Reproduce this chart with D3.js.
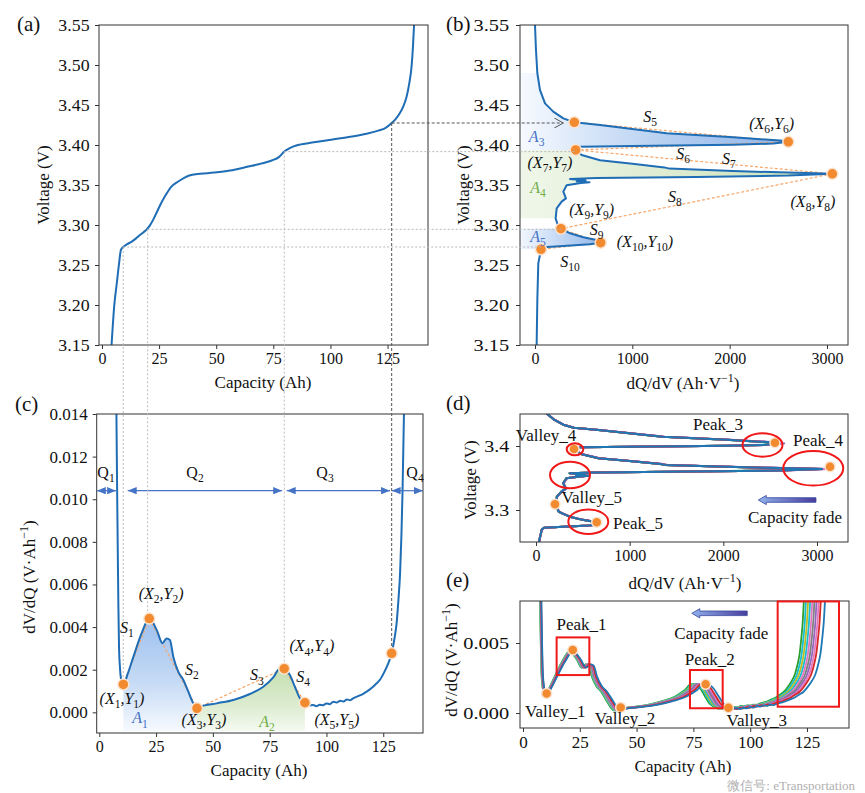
<!DOCTYPE html>
<html>
<head>
<meta charset="utf-8">
<script src="https://cdn.jsdelivr.net/npm/d3@7"></script>
<style>
body { margin: 0; background: #fff; }
svg text { font-family: "Liberation Serif", "Times New Roman", serif; }
</style>
</head>
<body>
<svg id="fig" width="865" height="793"></svg>
<script>
// ---------- values ----------
// (a) charge curve: capacity (Ah) and voltage (V)
const cap_a = [4.2, 5.4, 6.4, 7.4, 8.3, 9.3, 11, 12.9, 14.8, 16.6, 18.2, 19.6, 21, 22.5, 24, 25.5, 27.5, 30.4, 33.2, 36, 39, 43, 49, 56, 64, 70, 74.6, 77.3, 79.8, 81.8, 83.6, 86.6, 92, 101, 108, 115.8, 121, 124, 126.8, 128.7, 130.4, 132, 133.3, 134.5, 135.5, 136.1, 136.6];
const volt_a = [3.15, 3.20, 3.225, 3.25, 3.2688, 3.2725, 3.276, 3.279, 3.283, 3.2875, 3.291, 3.2946, 3.2995, 3.307, 3.316, 3.325, 3.3355, 3.348, 3.354, 3.359, 3.3625, 3.364, 3.3655, 3.368, 3.373, 3.377, 3.381, 3.3845, 3.3917, 3.3955, 3.398, 3.4005, 3.403, 3.407, 3.410, 3.414, 3.418, 3.421, 3.4275, 3.433, 3.44, 3.449, 3.46, 3.477, 3.498, 3.522, 3.55];

// (b) dQ/dV against voltage, listed along the line from top to bottom
const volt_b = [3.55, 3.519, 3.49, 3.469, 3.452, 3.4417, 3.4333, 3.4284, 3.425, 3.4146, 3.4096, 3.4054, 3.404, 3.4018, 3.4004, 3.3988, 3.3979, 3.3965, 3.3938, 3.3875, 3.381, 3.3765, 3.372, 3.3705, 3.3675, 3.3655, 3.364, 3.3618, 3.36, 3.3587, 3.3575, 3.3555, 3.3545, 3.3535, 3.3525, 3.3496, 3.3417, 3.3333, 3.3292, 3.3208, 3.3083, 3.2979, 3.2954, 3.2896, 3.2846, 3.2813, 3.2779, 3.2758, 3.2738, 3.2721, 3.2696, 3.252, 3.206, 3.15];
const dqdv_b = [0, 10, 24, 51, 103, 188, 291, 404, 668, 1353, 2037, 2551, 2603, 2450, 2037, 1010, 462, 430, 418, 479, 668, 1000, 1330, 1380, 2034, 2600, 3055, 2600, 1661, 634, 360, 520, 430, 560, 470, 325, 291, 318, 274, 223, 212, 240, 267, 360, 497, 634, 675, 565, 291, 86, 62, 34, 24, 17];
const mark_b_dq = [404, 2603, 418, 3055, 267, 675, 62];
const mark_b_v = [3.4284, 3.404, 3.3938, 3.364, 3.2954, 3.2779, 3.2696];

// (c) dV/dQ against capacity
const cap_c = [7.5, 7.8, 8.1, 8.4, 8.7, 9.1, 9.7, 10.6, 12.5, 15, 18.6, 22.0, 25.3, 27.8, 29.6, 31.1, 32.6, 34.8, 37.0, 39.2, 41.4, 43.0, 44.3, 51.7, 59, 66.3, 72.2, 76.6, 79.5, 81.4, 83.9, 86.1, 88.3, 90.5, 92.3, 94.2, 95.6, 97, 98.5, 100, 101.5, 103, 104.5, 106, 107.5, 109, 110.5, 111.8, 114, 116, 117.7, 120, 122, 123.5, 125.5, 127.2, 128.7, 130, 130.9, 131.7, 132.4, 133, 133.5, 134.2];
const dvdq_c = [0.0145, 0.011, 0.008, 0.005, 0.003, 0.0021, 0.0015, 0.00131, 0.0018, 0.0026, 0.0037, 0.0044, 0.00386, 0.00324, 0.00347, 0.0034, 0.0026, 0.0019, 0.00152, 0.00097, 0.00042, 0.00019, 0.00026, 0.00042, 0.00058, 0.00086, 0.0012, 0.00164, 0.00206, 0.00205, 0.00175, 0.0012, 0.00066, 0.00045, 0.00032, 0.00034, 0.00028, 0.00036, 0.00033, 0.00042, 0.00038, 0.0005, 0.00046, 0.00054, 0.00051, 0.0006, 0.00057, 0.00066, 0.00076, 0.00086, 0.00097, 0.00115, 0.00135, 0.00152, 0.0019, 0.0023, 0.00277, 0.0035, 0.0042, 0.0053, 0.0065, 0.0083, 0.0104, 0.0145];
const mark_c_cap = [10.6, 22.0, 43.0, 81.4, 90.5, 128.7];
const mark_c_val = [0.00131, 0.0044, 0.00019, 0.00205, 0.00045, 0.00277];

// points on (a) that lead to (b) and (c)
const guide_cap = [9.3, 20.0, 79.8, 126.8];
const guide_volt = [3.2725, 3.2946, 3.3917, 3.4275];
const guide_to_b = [6, 4, 2, 0];
const guide_to_c = [0, 1, 3, 5];

// capacity ranges in (c)
const q_names = ["Q_1", "Q_2", "Q_3", "Q_4"];
const q_from = [-1.1, 12.5, 82.5, 128.7];
const q_to = [7.4, 80.5, 128.0, 142.5];
const q_level = 0.0104;

// (d) and (e): aged curves, capacity / dQ/dV factors per cycle
const fade_colors = ["#2ca02c", "#17becf", "#bcbd22", "#17becf", "#e377c2", "#7f7f7f", "#9467bd", "#e377c2", "#d62728", "#1f77b4"];
const fade_scale = [0.93, 0.937, 0.944, 0.951, 0.958, 0.965, 0.972, 0.979, 0.986, 1.0];
const fade_dq = [0.99, 0.995, 1.0, 1.0, 1.012, 1.0, 1.018, 1.01, 1.0, 1.0];

const feat_d_name = ["Peak_3", "Peak_4", "Valley_4", "Valley_5", "Peak_5"];
const feat_d_dq = [2551, 3139, 406, 203, 648];
const feat_d_v = [3.405, 3.3677, 3.3953, 3.309, 3.2808];

const feat_e_name = ["Valley_1", "Peak_1", "Valley_2", "Peak_2", "Valley_3"];
const feat_e_cap = [10.4, 21.9, 43, 80.4, 90.4];
const feat_e_val = [0.0014, 0.0045, 0.0004, 0.00205, 0.00038];

// ---------- drawing ----------
const svg = d3.select("#fig");
const defs = svg.append("defs");
const blue = "#1f6db5", orange = "#f28a30", dashOrange = "#f5a66a";

const xa = d3.scaleLinear().domain([-1.3, 142.7]).range([99, 428]);
const ya = d3.scaleLinear().domain([3.15, 3.55]).range([345, 25]);
const xb = d3.scaleLinear().domain([-154, 3216]).range([520, 848]);
const yb = d3.scaleLinear().domain([3.15, 3.55]).range([345, 25]);
const xc = d3.scaleLinear().domain([-1.14, 142.5]).range([96.7, 423]);
const yc = d3.scaleLinear().domain([-0.00097, 0.014]).range([733, 414]);
const xd = d3.scaleLinear().domain([-171, 3331]).range([520, 848]);
const yd = d3.scaleLinear().domain([3.25, 3.45]).range([542, 414]);
const xe = d3.scaleLinear().domain([-1.32, 143.5]).range([520, 849]);
const ye = d3.scaleLinear().domain([-0.00107, 0.008]).range([728, 601]);

function panel(id, x, y, xt, yt, xf, yf, yStretch, xSize, ySize) {
  const x0 = x.range()[0], x1 = x.range()[1], y0 = y.range()[1], y1 = y.range()[0];
  defs.append("clipPath").attr("id", id).append("rect")
    .attr("x", x0).attr("y", y0).attr("width", x1 - x0).attr("height", y1 - y0);
  const gx = svg.append("g").attr("transform", `translate(0,${y1})`)
    .call(d3.axisBottom(x).tickValues(xt).tickFormat(xf).tickSize(4).tickPadding(4).tickSizeOuter(0));
  gx.select(".domain").remove();
  gx.selectAll("line").attr("stroke", "#333");
  gx.selectAll("text").attr("font-size", xSize).attr("fill", "#111")
    .attr("font-family", '"Liberation Serif", serif');
  const gy = svg.append("g").attr("transform", `translate(${x0},0)`)
    .call(d3.axisLeft(y).tickValues(yt).tickFormat(yf).tickSize(4).tickPadding(5).tickSizeOuter(0));
  gy.select(".domain").remove();
  gy.selectAll("line").attr("stroke", "#333");
  gy.selectAll("text").attr("font-size", ySize).attr("fill", "#111")
    .attr("font-family", '"Liberation Serif", serif')
    .attr("transform", `scale(${yStretch},1)`);
  const plot = svg.append("g").attr("clip-path", `url(#${id})`);
  svg.append("rect").attr("x", x0).attr("y", y0).attr("width", x1 - x0).attr("height", y1 - y0)
    .attr("fill", "none").attr("stroke", "#333").attr("stroke-width", 1);
  return plot;
}

function label(txt, x, y, size, opt) {
  opt = opt || {};
  const t = svg.append("text").attr("x", x).attr("y", y).attr("font-size", size)
    .attr("fill", opt.color || "#111").attr("text-anchor", opt.anchor || "middle").text(txt);
  if (opt.rotate) t.attr("transform", `rotate(-90,${x},${y})`);
  return t;
}

// text with subscripts, e.g. "(X_2,Y_2)"
function subText(txt, x, y, size, color, italic) {
  const t = svg.append("text").attr("x", x).attr("y", y).attr("font-size", size)
    .attr("fill", color).attr("text-anchor", "middle");
  const parts = txt.split(/(_\d+)/).filter(p => p.length);
  let down = false;
  parts.forEach(p => {
    if (p[0] === "_") {
      t.append("tspan").text(p.slice(1)).attr("font-size", size * 0.72).attr("dy", size * 0.28);
      down = true;
    } else {
      const s = t.append("tspan").text(p).attr("font-style", italic ? "italic" : "normal");
      if (down) { s.attr("dy", -size * 0.28); down = false; }
    }
  });
}

function unitLabel(pre, x, y, rotate) {
  // "dQ/dV (Ah·V⁻¹)" style labels with a raised -1
  const t = svg.append("text").attr("x", x).attr("y", y).attr("font-size", 17)
    .attr("fill", "#111").attr("text-anchor", "middle");
  t.append("tspan").text(pre);
  t.append("tspan").text("−1").attr("font-size", 12).attr("dy", -7);
  t.append("tspan").text(")").attr("dy", 7);
  if (rotate) t.attr("transform", `rotate(-90,${x},${y})`);
}

function gradient(id, horiz, a, b, stops) {
  const g = defs.append("linearGradient").attr("id", id).attr("gradientUnits", "userSpaceOnUse");
  if (horiz) g.attr("x1", a).attr("x2", b).attr("y1", 0).attr("y2", 0);
  else g.attr("x1", 0).attr("x2", 0).attr("y1", a).attr("y2", b);
  stops.forEach(s => g.append("stop").attr("offset", s[0]).attr("stop-color", s[1]));
}

function dot(g, cx, cy, r) {
  g.append("circle").attr("cx", cx).attr("cy", cy).attr("r", r || 5.5)
    .attr("fill", orange).attr("stroke", "#fbe3cf").attr("stroke-width", 1.5);
}

const ptsA = cap_a.map((c, i) => ({c: c, v: volt_a[i]}));
const ptsB = dqdv_b.map((d, i) => ({d: d, v: volt_b[i]}));
const ptsC = cap_c.map((c, i) => ({c: c, v: dvdq_c[i]}));

// ---------- panel (a) ----------
const pa = panel("ca", xa, ya, [0, 25, 50, 75, 100, 125], [3.15, 3.2, 3.25, 3.3, 3.35, 3.4, 3.45, 3.5, 3.55],
  d3.format("d"), d3.format(".2f"), 1.05, 16, 17);
pa.append("path").datum(ptsA).attr("fill", "none").attr("stroke", blue).attr("stroke-width", 2)
  .attr("d", d3.line().x(d => xa(d.c)).y(d => ya(d.v)).curve(d3.curveMonotoneX));

// ---------- panel (b) ----------
const pb = panel("cb", xb, yb, [0, 1000, 2000, 3000], [3.15, 3.2, 3.25, 3.3, 3.35, 3.4, 3.45, 3.5, 3.55],
  d3.format("d"), d3.format(".2f"), 1.2, 16, 17);
gradient("gA3", true, 520, 800, [[0, "#f7faff"], [0.25, "#d6e5f8"], [0.6, "#adc9ef"], [1, "#8fb5ea"]]);
gradient("gA4", true, 520, 840, [[0, "#f0f7ea"], [0.5, "#dcebcf"], [1, "#c9e0b5"]]);
gradient("gA5", true, 520, 600, [[0, "#f2f7fe"], [0.5, "#c3d8f5"], [1, "#93b7ea"]]);
const areaB = d3.area().y(d => yb(d.v)).x0(xb.range()[0]).x1(d => xb(d.d));
[["gA3", 3.3938, 3.49], ["gA4", 3.304, 3.3938], ["gA5", 3.2696, 3.2954]].forEach(f => {
  const seg = ptsB.filter(p => p.v >= f[1] && p.v <= f[2]);
  pb.append("path").datum(seg).attr("fill", `url(#${f[0]})`).attr("d", areaB);
});
// slope lines S5..S10
for (let i = 0; i < mark_b_dq.length - 1; i++) {
  pb.append("line").attr("x1", xb(mark_b_dq[i])).attr("y1", yb(mark_b_v[i]))
    .attr("x2", xb(mark_b_dq[i + 1])).attr("y2", yb(mark_b_v[i + 1]))
    .attr("stroke", dashOrange).attr("stroke-width", 1.2).attr("stroke-dasharray", "3,2");
}
pb.append("path").datum(ptsB).attr("fill", "none").attr("stroke", blue).attr("stroke-width", 2)
  .attr("stroke-linejoin", "round").attr("d", d3.line().x(d => xb(d.d)).y(d => yb(d.v)));
mark_b_dq.forEach((d, i) => dot(pb, xb(d), yb(mark_b_v[i])));

// ---------- panel (c) ----------
const pc = panel("cc", xc, yc, [0, 25, 50, 75, 100, 125], [0, 0.002, 0.004, 0.006, 0.008, 0.01, 0.012, 0.014],
  d3.format("d"), d3.format(".3f"), 1.0, 16, 17);
gradient("gA1", false, 618, 733, [[0, "#9dc0ee"], [0.55, "#c5daf5"], [1, "#f8fbff"]]);
gradient("gA2", false, 665, 733, [[0, "#c2ddae"], [0.6, "#dcecd0"], [1, "#f7fbf4"]]);
const areaC = d3.area().x(d => xc(d.c)).y0(731).y1(d => yc(d.v)).curve(d3.curveMonotoneX);
[["gA1", mark_c_cap[0], mark_c_cap[2]], ["gA2", mark_c_cap[2], mark_c_cap[4]]].forEach(f => {
  pc.append("path").datum(ptsC.filter(p => p.c >= f[1] && p.c <= f[2]))
    .attr("fill", `url(#${f[0]})`).attr("d", areaC);
});
for (let i = 0; i < 4; i++) {
  pc.append("line").attr("x1", xc(mark_c_cap[i])).attr("y1", yc(mark_c_val[i]))
    .attr("x2", xc(mark_c_cap[i + 1])).attr("y2", yc(mark_c_val[i + 1]))
    .attr("stroke", dashOrange).attr("stroke-width", 1.2).attr("stroke-dasharray", "3,2");
}
pc.append("path").datum(ptsC).attr("fill", "none").attr("stroke", blue).attr("stroke-width", 2)
  .attr("d", d3.line().x(d => xc(d.c)).y(d => yc(d.v)).curve(d3.curveMonotoneX));

// Q arrows
defs.append("marker").attr("id", "qhead").attr("viewBox", "0 0 10 8").attr("refX", 10).attr("refY", 4)
  .attr("markerWidth", 9).attr("markerHeight", 7.2).attr("markerUnits", "userSpaceOnUse")
  .attr("orient", "auto-start-reverse")
  .append("path").attr("d", "M0,0L10,4L0,8z").attr("fill", "#4472c4");
q_names.forEach((n, i) => {
  svg.append("line").attr("x1", xc(q_from[i])).attr("x2", xc(q_to[i]))
    .attr("y1", yc(q_level)).attr("y2", yc(q_level))
    .attr("stroke", "#4472c4").attr("stroke-width", 1.2)
    .attr("marker-start", "url(#qhead)").attr("marker-end", "url(#qhead)");
});
subText("Q_1", 106, 478, 16, "#111", false);
subText("Q_2", 195, 478, 16, "#111", false);
subText("Q_3", 325, 478, 16, "#111", false);
subText("Q_4", 415, 478, 16, "#111", false);

// ---------- guide lines between panels ----------
defs.append("marker").attr("id", "open").attr("viewBox", "0 0 10 10").attr("refX", 9).attr("refY", 5)
  .attr("markerWidth", 10).attr("markerHeight", 10).attr("markerUnits", "userSpaceOnUse")
  .attr("orient", "auto")
  .append("path").attr("d", "M0,0L9,5L0,10").attr("fill", "none").attr("stroke", "#555").attr("stroke-width", 1);
guide_cap.forEach((c, i) => {
  const last = i === guide_cap.length - 1;
  const col = last ? "#555" : "#b9b9b9", dash = last ? "3,2" : "2,2";
  const gx = xa(c), gy = ya(guide_volt[i]);
  const ci = guide_to_c[i], bi = guide_to_b[i];
  svg.append("line").attr("x1", gx).attr("y1", gy).attr("x2", gx).attr("y2", yc(mark_c_val[ci]))
    .attr("stroke", col).attr("stroke-width", 1).attr("stroke-dasharray", dash);
  const h = svg.append("line").attr("x1", gx).attr("y1", gy)
    .attr("x2", last ? xb(mark_b_dq[bi]) - 11 : xb(mark_b_dq[bi])).attr("y2", gy)
    .attr("stroke", col).attr("stroke-width", 1).attr("stroke-dasharray", dash);
  if (last) h.attr("marker-end", "url(#open)");
});
mark_c_cap.forEach((c, i) => dot(svg, xc(c), yc(mark_c_val[i])));

// ---------- panel (d) ----------
const pd = panel("cd", xd, yd, [0, 1000, 2000, 3000], [3.3, 3.4],
  d3.format("d"), d3.format(".1f"), 1.18, 16, 17);
fade_colors.forEach((col, i) => {
  pd.append("path").datum(ptsB).attr("fill", "none").attr("stroke", col).attr("stroke-width", 2)
    .attr("stroke-linejoin", "round")
    .attr("d", d3.line().x(d => xd(d.d * fade_dq[i])).y(d => yd(d.v)));
});
feat_d_dq.forEach((d, i) => dot(pd, xd(d), yd(feat_d_v[i]), 5));
const ell_d = [[2418, 3.4016, 20, 11.7], [2960, 3.3652, 30, 17.3], [416, 3.3948, 8.3, 6], [363, 3.3547, 20, 13.3], [558, 3.2817, 20, 12.3]];
ell_d.forEach(e => svg.append("ellipse").attr("cx", xd(e[0])).attr("cy", yd(e[1]))
  .attr("rx", e[2]).attr("ry", e[3]).attr("fill", "none").attr("stroke", "#f01818").attr("stroke-width", 2));
const pos_d = [[1943, 3.434], [3011, 3.409], [107, 3.417], [595, 3.320], [1089, 3.280]];
feat_d_name.forEach((n, i) => label(n, xd(pos_d[i][0]), yd(pos_d[i][1]) + 6, 17));
label("Capacity fade", xd(2765), yd(3.289) + 6, 17);

// ---------- panel (e) ----------
const pe = panel("ce", xe, ye, [0, 25, 50, 75, 100, 125], [0, 0.005],
  d3.format("d"), d3.format(".3f"), 1.2, 17, 17);
fade_colors.forEach((col, i) => {
  pe.append("path").datum(ptsC).attr("fill", "none").attr("stroke", col).attr("stroke-width", 1.8)
    .attr("d", d3.line().x(d => xe(d.c * fade_scale[i])).y(d => ye(d.v)).curve(d3.curveMonotoneX));
});
feat_e_cap.forEach((c, i) => dot(pe, xe(c), ye(feat_e_val[i]), 5));
const box_e = [[14.8, 29.2, 0.0054, 0.00271], [73.5, 87.9, 0.00307, 0.00034], [112.1, 139.1, 0.00797, 0.00045]];
box_e.forEach(b => svg.append("rect").attr("x", xe(b[0])).attr("y", ye(b[2]))
  .attr("width", xe(b[1]) - xe(b[0])).attr("height", ye(b[3]) - ye(b[2]))
  .attr("fill", "none").attr("stroke", "#f01818").attr("stroke-width", 2));
const pos_e = [[14.2, 0.00016], [25.8, 0.00636], [44.9, -0.00038], [82.2, 0.00386], [102.9, -0.0005]];
feat_e_name.forEach((n, i) => label(n, xe(pos_e[i][0]), ye(pos_e[i][1]) + 6, 17));
label("Capacity fade", xe(87.3), ye(0.00571) + 6, 17);

// capacity fade arrows
gradient("gFade", true, 0, 1, [[0, "#8fb0ea"], [1, "#4a3c9e"]]);
defs.select("#gFade").attr("gradientUnits", "objectBoundingBox");
function fadeArrow(xTip, xTail, yc0) {
  const h = 2.3, hh = 4.6, hl = 8;
  const d = `M${xTip},${yc0}L${xTip + hl},${yc0 - hh}L${xTip + hl},${yc0 - h}L${xTail},${yc0 - h}` +
    `L${xTail},${yc0 + h}L${xTip + hl},${yc0 + h}L${xTip + hl},${yc0 + hh}Z`;
  svg.append("path").attr("d", d).attr("fill", "url(#gFade)").attr("stroke", "#34489a").attr("stroke-width", 0.8);
}
fadeArrow(xd(2373), xd(2989), yd(3.3156));
fadeArrow(xe(74.3), xe(98.7), ye(0.00712));

// ---------- annotation text ----------
const txtC = [["(X_2,Y_2)", 27.2, 0.00556, "#111"], ["S_1", 12.2, 0.00396, "#111"], ["(X_1,Y_1)", 10.0, 0.00063, "#111"],
  ["S_2", 40.8, 0.00199, "#111"], ["A_1", 17.9, -0.00027, "#4472c4"], ["(X_3,Y_3)", 46.1, -0.00036, "#111"],
  ["S_3", 69.4, 0.00175, "#111"], ["A_2", 73.8, -0.00045, "#70ad47"], ["(X_4,Y_4)", 93.6, 0.00311, "#111"],
  ["S_4", 89.7, 0.00166, "#111"], ["(X_5,Y_5)", 104.6, -0.00036, "#111"]];
txtC.forEach(t => subText(t[0], xc(t[1]), yc(t[2]) + 5, 16, t[3], true));
const txtB = [["S_5", 1182, 3.435, "#111"], ["(X_6,Y_6)", 2432, 3.4263, "#111"], ["A_3", 17, 3.4104, "#4472c4"],
  ["S_6", 1521, 3.3888, "#111"], ["S_7", 1993, 3.3825, "#111"], ["(X_7,Y_7)", 154, 3.3775, "#111"],
  ["A_4", 31, 3.3463, "#70ad47"], ["S_8", 1438, 3.335, "#111"], ["(X_8,Y_8)", 2856, 3.3288, "#111"],
  ["(X_9,Y_9)", 583, 3.3188, "#111"], ["S_9", 634, 3.2938, "#111"], ["A_5", 31, 3.285, "#4472c4"],
  ["(X_10,Y_10)", 1130, 3.2791, "#111"], ["S_10", 360, 3.2541, "#111"]];
txtB.forEach(t => subText(t[0], xb(t[1]), yb(t[2]) + 5, 16, t[3], true));

// axis titles and panel letters
label("Capacity (Ah)", 263, 388, 17);
label("Voltage (V)", 49, 185, 17, {rotate: true});
label("Voltage (V)", 469, 185, 17, {rotate: true});
unitLabel("dQ/dV (Ah·V", 683, 389);
label("Capacity (Ah)", 259, 776, 17);
unitLabel("dV/dQ (V·Ah", 35, 577, true);
label("Voltage (V)", 476, 480, 17, {rotate: true});
unitLabel("dQ/dV (Ah·V", 685, 589);
unitLabel("dV/dQ (V·Ah", 457, 660, true);
label("Capacity (Ah)", 683, 772, 17);
label("(a)", 17, 31, 21, {anchor: "start"});
label("(b)", 446, 31, 21, {anchor: "start"});
label("(c)", 15, 411, 21, {anchor: "start"});
label("(d)", 446, 410, 21, {anchor: "start"});
label("(e)", 446, 587, 21, {anchor: "start"});

// watermark, kept clear of the tick labels
svg.append("text").attr("x", 855).attr("y", 790).attr("font-size", 13).attr("text-anchor", "end")
  .attr("font-family", '"Noto Sans CJK SC", sans-serif').attr("fill", "#b0b0b0")
  .text("微信号: eTransportation");
</script>
</body>
</html>
